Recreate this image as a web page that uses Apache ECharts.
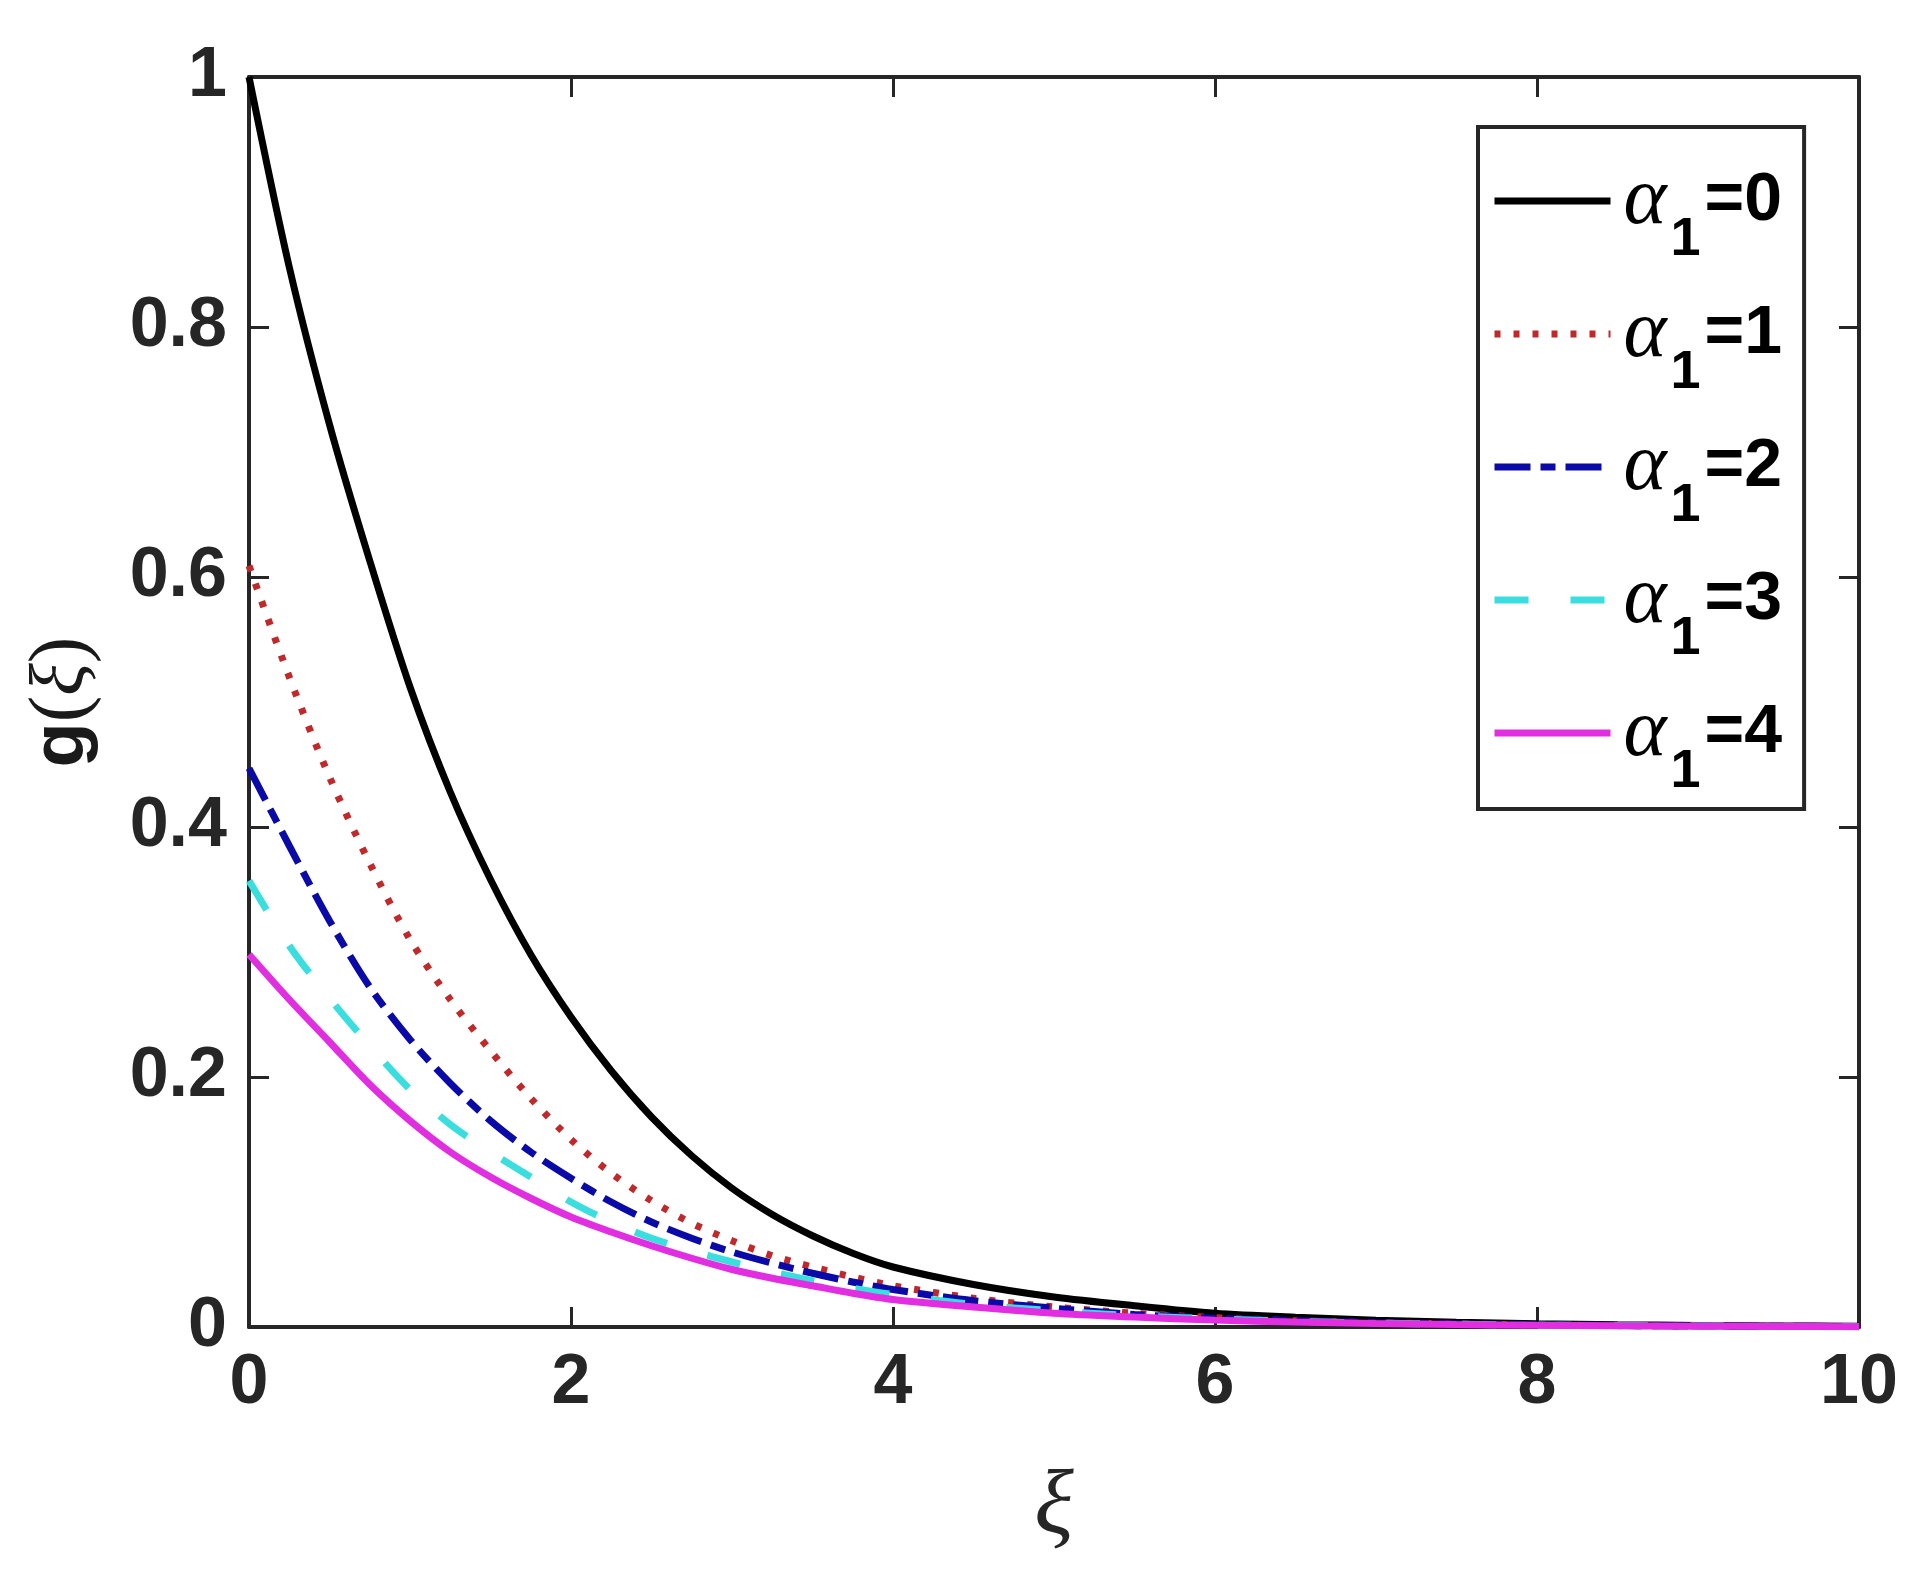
<!DOCTYPE html>
<html>
<head>
<meta charset="utf-8">
<script src="https://cdn.jsdelivr.net/npm/echarts@6/dist/echarts.min.js"></script>
<style>
html,body{margin:0;padding:0;background:#fff;}
#chart{width:1924px;height:1574px;}
</style>
</head>
<body>
<div id="chart"></div>
<script>
// xi grid (0.25 up to 4, then 0.5) and g(xi) for each alpha_1
var xi = [0,0.25,0.5,0.75,1,1.25,1.5,1.75,2,2.25,2.5,2.75,3,3.25,3.5,3.75,4,
          4.5,5,5.5,6,6.5,7,7.5,8,8.5,9,9.5,10];
var g0 = [1.0,0.848,0.722,0.613,0.512,0.428,0.358,0.298,0.248,0.205,0.168,0.137,0.111,0.09,0.073,0.059,0.048,
          0.034,0.024,0.017,0.011,0.0078,0.0055,0.0038,0.0027,0.0019,0.0013,0.0009,0.0006];
var g1 = [0.609,0.52,0.44,0.371,0.31,0.262,0.221,0.183,0.15,0.123,0.101,0.083,0.069,0.057,0.048,0.04,0.033,
          0.023,0.016,0.011,0.0075,0.005,0.0035,0.0024,0.0016,0.0011,0.0008,0.0005,0.0003];
var g2 = [0.447,0.385,0.325,0.272,0.23,0.195,0.165,0.14,0.119,0.1,0.084,0.071,0.06,0.051,0.043,0.036,0.03,
          0.021,0.015,0.01,0.007,0.005,0.0034,0.0024,0.0017,0.0012,0.0008,0.0006,0.0004];
var g3 = [0.357,0.305,0.263,0.225,0.19,0.162,0.14,0.12,0.1,0.084,0.071,0.061,0.052,0.044,0.037,0.031,0.026,
          0.018,0.013,0.009,0.0065,0.0045,0.0032,0.0022,0.0015,0.0011,0.0008,0.0005,0.0003];
var g4 = [0.298,0.262,0.228,0.194,0.165,0.14,0.12,0.103,0.088,0.076,0.065,0.055,0.046,0.039,0.033,0.027,0.022,
          0.016,0.011,0.008,0.0055,0.004,0.0028,0.002,0.0014,0.001,0.0007,0.0005,0.0003];
var alphas = ['0','1','2','3','4'];
var xTicks = [0,2,4,6,8,10];
var yTicks = [0,0.2,0.4,0.6,0.8,1];

var axisColor = '#262626';
var tickFont = {fontFamily:'Liberation Sans', fontWeight:'bold', fontSize:70, color:'#262626'};

function pairs(ys){
  return xi.map(function(x,i){ return [x, ys[i]]; });
}

var styles = [
  {color:'#000000', type:'solid'},
  {color:'#c0282a', type:[6,13]},
  {color:'#0a0aa8', type:[36,10,15,10]},
  {color:'#3adede', type:[34,42]},
  {color:'#e02ee0', type:'solid'}
];
var ys = [g0,g1,g2,g3,g4];

var series = alphas.map(function(a,i){
  return {
    name:'α1=' + a,
    type:'line',
    data:pairs(ys[i]),
    smooth:0.3,
    symbol:'none',
    lineStyle:{color:styles[i].color, width:7, type:styles[i].type},
    itemStyle:{color:styles[i].color},
    z:2+i
  };
});

var myChart = echarts.init(document.getElementById('chart'));
var option = {
  animation:false,
  backgroundColor:'#ffffff',
  grid:{left:249, right:65, top:77, bottom:247},
  legend:{
    orient:'vertical',
    left:1478,
    top:127,
    padding:[33,22,10,13],
    borderColor:'#262626',
    borderWidth:4,
    itemWidth:116,
    itemHeight:20,
    itemGap:26,
    lineStyle:{width:7},
    itemStyle:{opacity:0},
    data:series.map(function(s){ return s.name; }),
    formatter:function(name){
      return '{a|α}{s|1}{b|' + name.slice(2) + '}';
    },
    textStyle:{
      color:'#000',
      rich:{
        a:{fontFamily:'Liberation Serif', fontStyle:'italic', fontSize:82, color:'#000', padding:[0,4,0,8]},
        s:{fontFamily:'Liberation Sans', fontWeight:'bold', fontSize:54, color:'#000', padding:[78,4,0,0]},
        b:{fontFamily:'Liberation Sans', fontWeight:'bold', fontSize:68, color:'#000'}
      }
    }
  },
  xAxis:[{
    type:'value', min:0, max:10, interval:2,
    name:'ξ', nameLocation:'middle', nameGap:136,
    nameTextStyle:{fontFamily:'Liberation Serif', fontStyle:'italic', fontSize:92, color:'#262626'},
    axisLine:{show:true, onZero:false, lineStyle:{color:axisColor, width:4}},
    axisTick:{show:true, inside:true, length:20, lineStyle:{color:axisColor, width:3}},
    axisLabel:Object.assign({margin:22}, tickFont),
    splitLine:{show:false}
  },{
    type:'value', min:0, max:10, interval:2, position:'top',
    axisLine:{show:true, onZero:false, lineStyle:{color:axisColor, width:4}},
    axisTick:{show:true, inside:true, length:20, lineStyle:{color:axisColor, width:3}},
    axisLabel:{show:false},
    splitLine:{show:false}
  }],
  yAxis:[{
    type:'value', min:0, max:1, interval:0.2,
    name:'{g|g}{p|(}{x|ξ}{p|)}', nameLocation:'middle', nameGap:146, nameRotate:90,
    nameTextStyle:{color:'#262626',
      rich:{
        g:{fontFamily:'Liberation Sans', fontWeight:'bold', fontSize:74, color:'#1a1a1a'},
        p:{fontFamily:'Liberation Serif', fontSize:80, color:'#1a1a1a'},
        x:{fontFamily:'Liberation Serif', fontStyle:'italic', fontSize:76, color:'#1a1a1a'}
      }},
    axisLine:{show:true, onZero:false, lineStyle:{color:axisColor, width:4}},
    axisTick:{show:true, inside:true, length:20, lineStyle:{color:axisColor, width:3}},
    axisLabel:Object.assign({margin:22}, tickFont),
    splitLine:{show:false}
  },{
    type:'value', min:0, max:1, interval:0.2, position:'right',
    axisLine:{show:true, onZero:false, lineStyle:{color:axisColor, width:4}},
    axisTick:{show:true, inside:true, length:20, lineStyle:{color:axisColor, width:3}},
    axisLabel:{show:false},
    splitLine:{show:false}
  }],
  series:series
};
myChart.setOption(option);
</script>
</body>
</html>
